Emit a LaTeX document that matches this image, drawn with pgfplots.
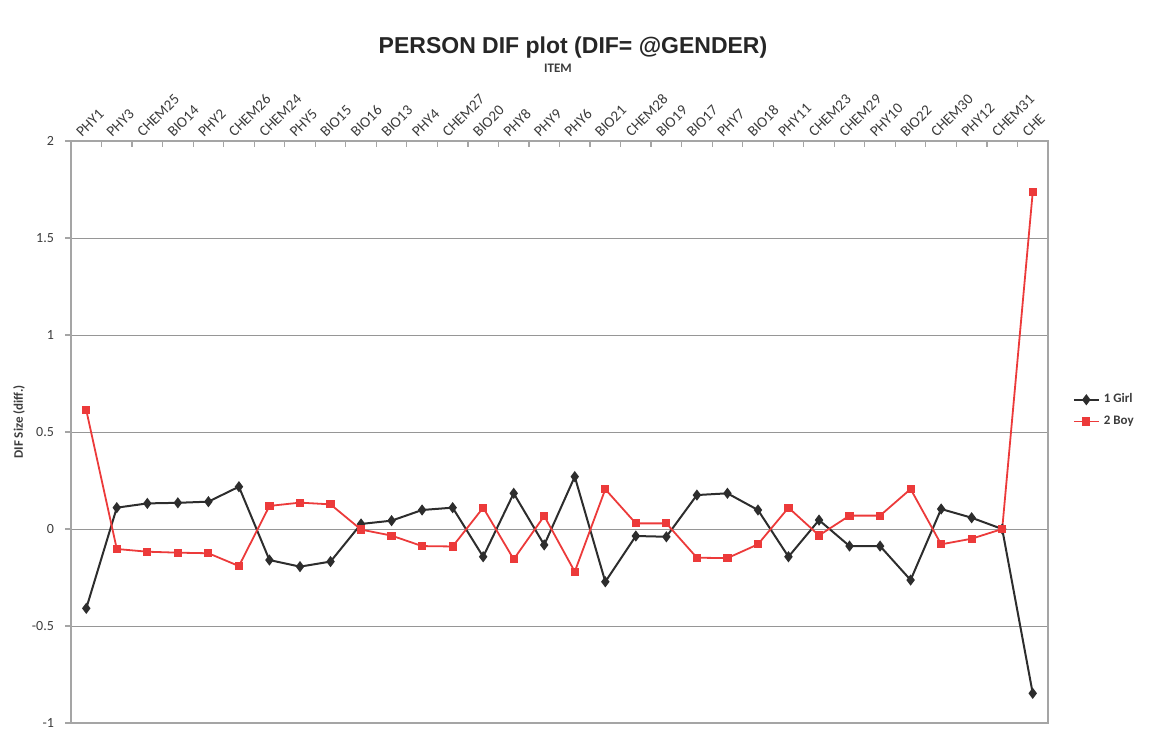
\documentclass[border=0pt]{standalone}
\usepackage{pgfplots}
\pgfplotsset{compat=1.18}
\usepackage{pgfplotstable}
\usepackage{fontspec}
\setmainfont{Carlito}
\newfontfamily\titlefont{Liberation Sans}
\definecolor{girlc}{RGB}{45,45,45}
\definecolor{boyc}{RGB}{236,58,58}
\definecolor{axc}{RGB}{165,165,165}
\definecolor{gridc}{RGB}{150,150,150}
\definecolor{txt}{RGB}{60,60,60}
\pgfplotstableread{
i girl boy
0 -0.409 0.613
1 0.110 -0.103
2 0.132 -0.117
3 0.135 -0.122
4 0.141 -0.125
5 0.218 -0.191
6 -0.160 0.119
7 -0.194 0.136
8 -0.168 0.127
9 0.026 -0.003
10 0.043 -0.034
11 0.098 -0.088
12 0.110 -0.090
13 -0.143 0.110
14 0.184 -0.156
15 -0.082 0.067
16 0.270 -0.220
17 -0.272 0.205
18 -0.036 0.029
19 -0.040 0.029
20 0.175 -0.148
21 0.184 -0.150
22 0.098 -0.079
23 -0.143 0.110
24 0.046 -0.033
25 -0.088 0.069
26 -0.088 0.069
27 -0.263 0.206
28 0.103 -0.079
29 0.058 -0.050
30 0.000 0.000
31 -0.847 1.737
}\datatable
\begin{document}
\begin{tikzpicture}
\path[use as bounding box] (0,0) rectangle (575.5pt,365pt);
\node[font=\titlefont\bfseries\fontsize{11.5}{13}\selectfont, text=black!85] at (286.5pt,341pt) {PERSON DIF plot (DIF= @GENDER)};
\node[font=\bfseries\fontsize{6.5}{8}\selectfont, text=txt] at (279pt,331pt) {ITEM};
\node[font=\bfseries\fontsize{6.5}{8}\selectfont, text=txt, rotate=90] at (9.5pt,154pt) {DIF Size (diff.)};
\begin{axis}[
  at={(35.5pt,3.5pt)}, anchor=south west,
  scale only axis, width=488.5pt, height=291pt,
  xmin=-0.5, xmax=31.5, ymin=-1, ymax=2,
  xtick={0,...,31},
  xticklabels={PHY1,PHY3,CHEM25,BIO14,PHY2,CHEM26,CHEM24,PHY5,BIO15,BIO16,BIO13,PHY4,CHEM27,BIO20,PHY8,PHY9,PHY6,BIO21,CHEM28,BIO19,BIO17,PHY7,BIO18,PHY11,CHEM23,CHEM29,PHY10,BIO22,CHEM30,PHY12,CHEM31,CHE},
  xticklabel pos=upper,
  xtick pos=upper,
  major x tick style={draw=none},
  minor xtick={-0.5,0.5,...,31.5},
  minor x tick style={axc, line width=0.6pt},
  minor tick length=3pt,
  xticklabel style={rotate=45, anchor=south west, font=\fontsize{7.5}{8}\selectfont, text=txt, inner sep=1pt, xshift=-1.5pt, yshift=1.5pt},
  ytick={-1,-0.5,0,0.5,1,1.5,2},
  yticklabels={-1,-0.5,0,0.5,1,1.5,2},
  ytick pos=left,
  ytick align=outside,
  major tick length=3pt,
  y tick style={axc, line width=0.6pt},
  yticklabel style={font=\fontsize{7}{8}\selectfont, text=txt, xshift=-2pt},
  ymajorgrids,
  grid style={gridc, line width=0.5pt},
  axis line style={axc, line width=1pt},
  legend style={at={(1.025,0.537)}, anchor=west, draw=none, fill=none, font=\bfseries\fontsize{6.5}{8}\selectfont, text=txt, row sep=1pt, inner sep=0pt},
  legend cell align=left,
  legend image code/.code={\draw[mark repeat=2,mark phase=2] plot coordinates {(0cm,0cm) (0.22cm,0cm) (0.44cm,0cm)};},
  clip=false,
]
\addplot[girlc, line width=1pt, mark=diamond*, mark size=2pt, mark options={solid, fill=girlc}] table[x=i, y=girl] {\datatable};
\addlegendentry{1 Girl}
\addplot[boyc, line width=0.9pt, mark=square*, mark size=1.6pt, mark options={solid, fill=boyc}] table[x=i, y=boy] {\datatable};
\addlegendentry{2 Boy}
\end{axis}
\end{tikzpicture}
\end{document}
